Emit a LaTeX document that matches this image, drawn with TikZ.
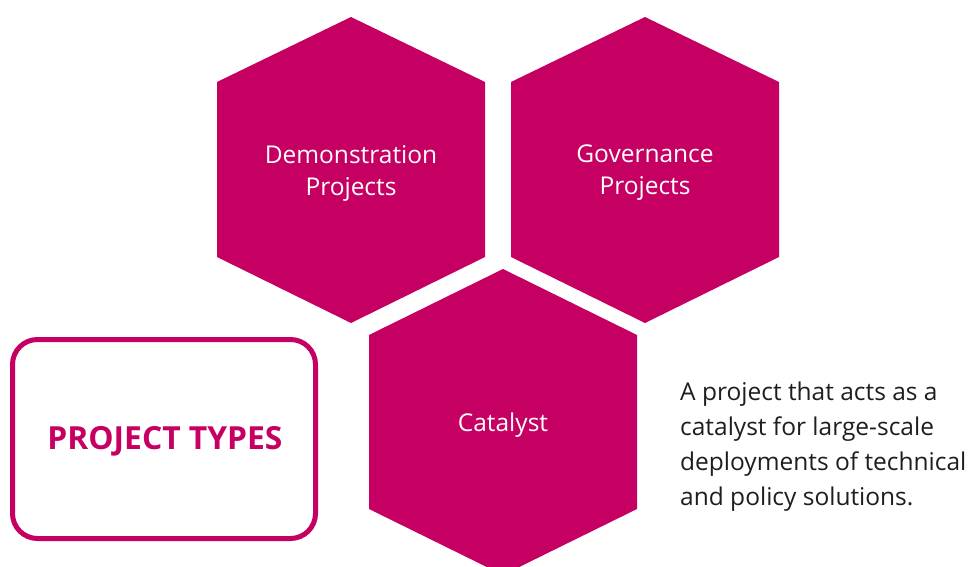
\documentclass[tikz,border=0pt]{standalone}
\usepackage{fontspec}
\setmainfont{Open Sans}
\definecolor{hexpink}{RGB}{198,0,98}
\definecolor{bodytext}{RGB}{30,30,30}
\tikzset{
  hexfill/.style={fill=hexpink},
  hextext/.style={text=white,align=center,inner sep=0pt,font=\fontsize{24.5}{32}\selectfont},
  typebox/.style={draw=hexpink,line width=5pt,rounded corners=25pt},
  typetext/.style={text=hexpink,inner sep=0pt,font=\fontsize{31.8}{36}\selectfont\bfseries},
  desctext/.style={text=bodytext,align=left,inner sep=0pt,anchor=base west,font=\fontsize{24.5}{35}\selectfont}
}
\begin{document}
\begin{tikzpicture}[x=1pt,y=-1pt]
\useasboundingbox (0,0) rectangle (975,567);
% hexagon 1
\fill[hexfill] (351,17) -- (485,82) -- (485,257) -- (351,323) -- (217,257) -- (217,82) -- cycle;
% hexagon 2
\fill[hexfill] (645,17) -- (779,82) -- (779,257) -- (645,323) -- (511,257) -- (511,82) -- cycle;
% hexagon 3
\fill[hexfill] (503,269) -- (637,335) -- (637,509) -- (503,575) -- (369,509) -- (369,335) -- cycle;
\node[hextext] (demo) at (351,173) {Demonstration\\Projects};
\node[hextext] (gov) at (645,173) {Governance\\Projects};
\node[hextext] (cat) at (503,425) {Catalyst};
% box
\draw[typebox] (12.5,339.5) rectangle (315.5,538.5);
\node[typetext] (types) at (165,441) {PROJECT TYPES};
% description
\node[desctext] (desc) at (680,505) {A project that acts as a\\catalyst for large-scale\\deployments of technical\\and policy solutions.};
\end{tikzpicture}
\end{document}
